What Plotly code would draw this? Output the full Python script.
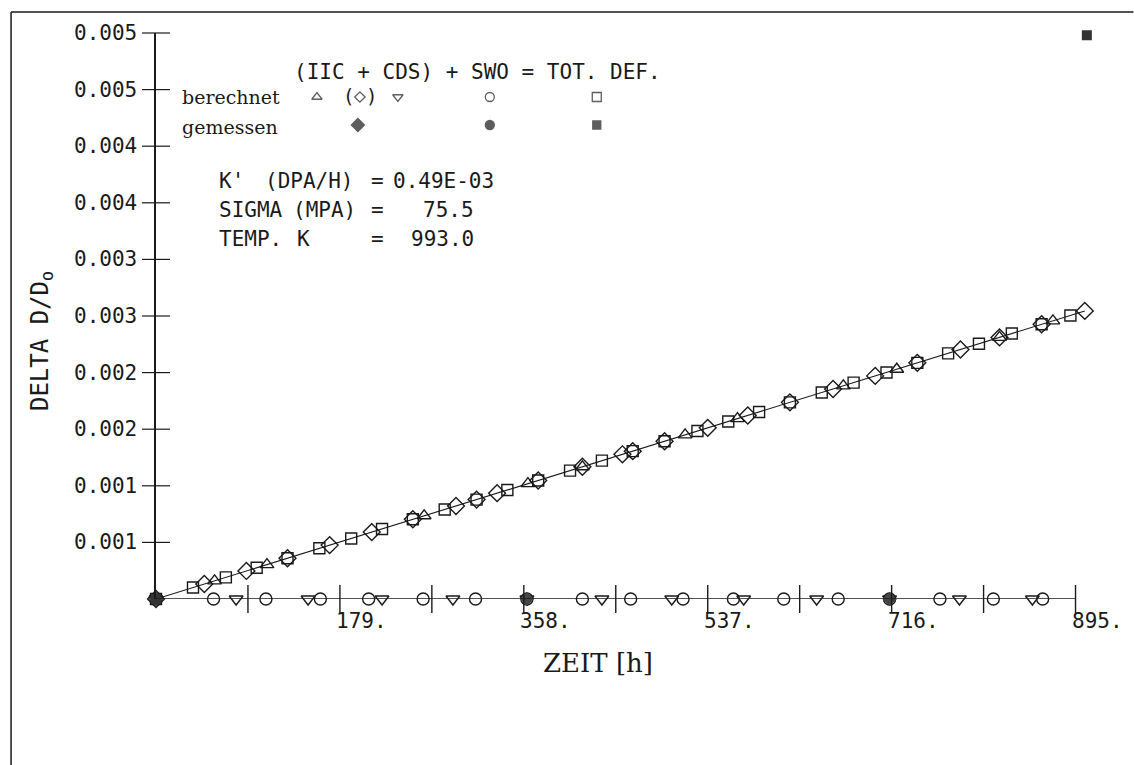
import plotly.graph_objects as go

# ---- data (time in h, relative diameter change) ----
# calculated IIC (triangles)
t_iic = [57, 108, 261, 362, 415, 515, 566, 669, 721, 821, 873]
v_iic = [0.000160, 0.000304, 0.000735, 0.001019, 0.001168, 0.001450,
         0.001593, 0.001883, 0.002030, 0.002311, 0.002457]

# calculated IIC + CDS (diamonds, joined by the curve)
t_ic = [0, 47, 88, 128, 169, 210, 250, 292, 312, 332, 372, 415, 454, 464,
        495, 537, 576, 617, 659, 700, 741, 783, 821, 862, 904]
v_ic = [0.0, 0.000132, 0.000248, 0.000360, 0.000476, 0.000591, 0.000704,
        0.000822, 0.000878, 0.000935, 0.001047, 0.001168, 0.001278, 0.001306,
        0.001393, 0.001512, 0.001621, 0.001737, 0.001855, 0.001971, 0.002086,
        0.002204, 0.002311, 0.002427, 0.002545]

# calculated total deformation (squares)
t_tot = [0, 36, 68, 98, 128, 159, 190, 220, 250, 281, 312, 342, 372, 403, 434,
         464, 495, 527, 557, 587, 617, 648, 679, 711, 741, 771, 801, 833, 862, 890]
v_tot = [0.0, 0.000101, 0.000191, 0.000276, 0.000360, 0.000448, 0.000535,
         0.000619, 0.000704, 0.000791, 0.000878, 0.000963, 0.001047, 0.001134,
         0.001222, 0.001306, 0.001393, 0.001484, 0.001568, 0.001652, 0.001737,
         0.001824, 0.001911, 0.002001, 0.002086, 0.002170, 0.002255, 0.002345,
         0.002427, 0.002505]

# calculated swelling (circles)
t_swo = [0, 56, 107, 160, 207, 260, 311, 361, 415, 462, 513, 562, 611, 664,
         714, 763, 815, 863]
v_swo = [0.0] * len(t_swo)

# calculated CDS (down triangles)
t_cds = [0, 78, 148, 220, 289, 361, 434, 502, 572, 643, 714, 782, 853]
v_cds = [0.0] * len(t_cds)

# measured values
t_meas_ic = [0, 361, 714]
v_meas_ic = [0.0, 0.0, 0.0]
t_meas_swo = [0, 361, 714]
v_meas_swo = [0.0, 0.0, 0.0]
t_meas_tot = [0, 906]
v_meas_tot = [0.0, 0.00498]

# axis ticks
x_end = 895
x_ticks = [89.5, 179, 268.5, 358, 447.5, 537, 626.5, 716, 805.5, 895]
x_label_vals = [179, 358, 537, 716, 895]
x_label_text = ["179.", "358.", "537.", "716.", "895."]
y_ticks = [0.0005, 0.001, 0.0015, 0.002, 0.0025, 0.003, 0.0035, 0.004, 0.0045, 0.005]
y_label_text = ["0.001", "0.001", "0.002", "0.002", "0.003", "0.003",
                "0.004", "0.004", "0.005", "0.005"]

W, H = 1134, 765
L, T, B = 156, 33, 599              # plot area edges in pixels
AX_END = 1076                       # pixel where the time axis ends (x_end)
X_MAX = 912                         # a little room for points past the axis end
R = L + (AX_END - L) * X_MAX / x_end
MONO = "DejaVu Sans Mono"
SERIF = "DejaVu Serif"
INK = "#1a1a1a"


def px(x):
    return (x - L) / (R - L)


def py(y):
    return (B - y) / (B - T)


fig = go.Figure()

mk = dict(color=INK, width=1.4)
# curve through IIC+CDS
fig.add_trace(go.Scatter(x=t_ic, y=v_ic, mode="lines", line=dict(color=INK, width=1.1),
                         cliponaxis=False))
fig.add_trace(go.Scatter(x=t_tot, y=v_tot, mode="markers", cliponaxis=False,
                         marker=dict(symbol="square-open", size=11, color=INK, line=mk)))
fig.add_trace(go.Scatter(x=t_ic, y=v_ic, mode="markers", cliponaxis=False,
                         marker=dict(symbol="diamond-open", size=13, color=INK, line=mk)))
fig.add_trace(go.Scatter(x=t_iic, y=v_iic, mode="markers", cliponaxis=False,
                         marker=dict(symbol="triangle-up-open", size=12, color=INK, line=mk)))
fig.add_trace(go.Scatter(x=t_swo, y=v_swo, mode="markers", cliponaxis=False,
                         marker=dict(symbol="circle-open", size=12, color=INK, line=mk)))
fig.add_trace(go.Scatter(x=t_cds, y=v_cds, mode="markers", cliponaxis=False,
                         marker=dict(symbol="triangle-down-open", size=12, color=INK, line=mk)))
fig.add_trace(go.Scatter(x=t_meas_ic, y=v_meas_ic, mode="markers", cliponaxis=False,
                         marker=dict(symbol="diamond", size=11, color="#444")))
fig.add_trace(go.Scatter(x=t_meas_swo, y=v_meas_swo, mode="markers", cliponaxis=False,
                         marker=dict(symbol="circle", size=9, color="#444")))
fig.add_trace(go.Scatter(x=t_meas_tot, y=v_meas_tot, mode="markers", cliponaxis=False,
                         marker=dict(symbol="square", size=10, color="#333")))

# crossing tick marks on both axes
fig.add_trace(go.Scatter(x=x_ticks, y=[0] * len(x_ticks), mode="markers", cliponaxis=False,
                         marker=dict(symbol="line-ns", size=20, line=dict(color=INK, width=1.4))))
fig.add_trace(go.Scatter(x=[0] * len(y_ticks), y=y_ticks, mode="markers", cliponaxis=False,
                         marker=dict(symbol="line-ew", size=20, line=dict(color=INK, width=1.2))))

# symbol key drawn on a pixel-space overlay axis
key_x = [317, 360, 398, 490, 597, 358, 490, 597]
key_y = [97, 97, 97, 97, 97, 125, 125, 125]
key_sym = ["triangle-up-open", "diamond-open", "triangle-down-open", "circle-open",
           "square-open", "diamond", "circle", "square"]
key_size = [9, 8, 9, 9, 9, 10, 9, 8]
fig.add_trace(go.Scatter(x=key_x, y=key_y, xaxis="x2", yaxis="y2", mode="markers",
                         cliponaxis=False,
                         marker=dict(symbol=key_sym, size=key_size, color=INK,
                                     line=dict(color=INK, width=1.3))))

ann = []
for v, s in zip(x_label_vals, x_label_text):
    ann.append(dict(x=v, y=0, xref="x", yref="y", text=s, showarrow=False,
                    xanchor="left", yanchor="middle", xshift=-6, yshift=-22,
                    font=dict(family=MONO, size=21, color=INK)))
for v, s in zip(y_ticks, y_label_text):
    ann.append(dict(x=0, y=v, xref="x", yref="y", text=s, showarrow=False,
                    xanchor="right", yanchor="middle", xshift=-17,
                    font=dict(family=MONO, size=21, color=INK)))


def text(x, y, s, anchor="left", fam=MONO, size=21, **kw):
    ann.append(dict(x=px(x), y=py(y), xref="paper", yref="paper", text=s,
                    showarrow=False, xanchor=anchor, yanchor="middle",
                    font=dict(family=fam, size=size, color=INK), **kw))


text(292, 72, "(IIC + CDS) + SWO = TOT. DEF.")
text(180, 97, "berechnet", fam=SERIF, size=19)
text(180, 127, "gemessen", fam=SERIF, size=19)
text(341, 96, "(", size=19)
text(379, 96, ")", anchor="right", size=19)

text(217, 181, "K'")
text(263, 181, "(DPA/H)")
text(378, 181, "=", anchor="center")
text(496, 181, "0.49E-03", anchor="right")
text(217, 210, "SIGMA")
text(291, 210, "(MPA)")
text(378, 210, "=", anchor="center")
text(476, 210, "75.5", anchor="right")
text(217, 239, "TEMP.")
text(304, 239, "K", anchor="center")
text(378, 239, "=", anchor="center")
text(476, 239, "993.0", anchor="right")

text(598, 663, "ZEIT [h]", anchor="center", fam=SERIF, size=26)
text(41, 341, "DELTA D/D<sub>o</sub>", anchor="center", size=24, textangle=-90)

shapes = [
    # time axis, ending at the last tick
    dict(type="line", xref="x", yref="y", x0=0, x1=x_end, y0=0, y1=0,
         line=dict(color=INK, width=1.5)),
    # page frame
    dict(type="line", xref="paper", yref="paper", x0=px(11), x1=px(1134), y0=py(12), y1=py(12),
         line=dict(color=INK, width=1.5)),
    dict(type="line", xref="paper", yref="paper", x0=px(11), x1=px(11), y0=py(12), y1=py(765),
         line=dict(color=INK, width=1.5)),
]

fig.update_layout(
    width=W, height=H,
    margin=dict(l=L, r=W - R, t=T, b=H - B),
    paper_bgcolor="white", plot_bgcolor="white",
    showlegend=False,
    annotations=ann, shapes=shapes,
    xaxis=dict(range=[0, X_MAX], showgrid=False, zeroline=False, showticklabels=False,
               ticks="", showline=False),
    yaxis=dict(range=[0, 0.005], showgrid=False, zeroline=False, showticklabels=False,
               ticks="", showline=True, linecolor=INK, linewidth=1.5),
    xaxis2=dict(overlaying="x", range=[L, R], visible=False),
    yaxis2=dict(overlaying="y", range=[B, T], visible=False),
)

fig.write_html("out.html")
